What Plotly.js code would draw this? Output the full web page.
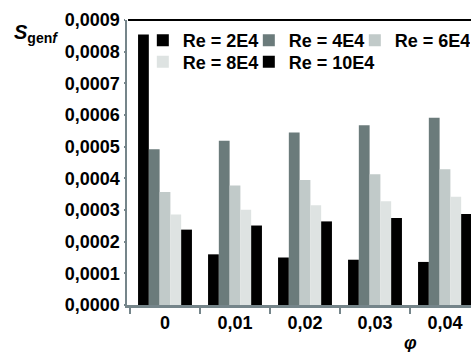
<!DOCTYPE html>
<html>
<head>
<meta charset="utf-8">
<script src="https://cdn.plot.ly/plotly-3.0.1.min.js"></script>
<style>html,body{margin:0;padding:0;background:#fff;}#chart{width:471px;height:352px;}</style>
</head>
<body>
<div id="chart"></div>
<script>
const categories = ["0", "0,01", "0,02", "0,03", "0,04"];
const seriesNames = ["Re = 2E4", "Re = 4E4", "Re = 6E4", "Re = 8E4", "Re = 10E4"];
const re2E4  = [0.000854, 0.000160, 0.000150, 0.000143, 0.000136];
const re4E4  = [0.000492, 0.000519, 0.000545, 0.000568, 0.000591];
const re6E4  = [0.000357, 0.000377, 0.000395, 0.000413, 0.000429];
const re8E4  = [0.000286, 0.000301, 0.000315, 0.000328, 0.000342];
const re10E4 = [0.000238, 0.000251, 0.000264, 0.000275, 0.000287];
const yTickVals = [0, 0.0001, 0.0002, 0.0003, 0.0004, 0.0005, 0.0006, 0.0007, 0.0008, 0.0009];

const colors = ["#000000", "#6b7b7b", "#c1cac9", "#dee3e2", "#000000"];
const allValues = [re2E4, re4E4, re6E4, re8E4, re10E4];
const legendOf = ["legend", "legend", "legend", "legend2", "legend2"];
const legendWidths = [undefined, undefined, 70, undefined, 95];
const FONT = "Liberation Sans, Arial, Helvetica, sans-serif";
const AXIS = "#75858a";
const FS = 18;

const traces = allValues.map((vals, i) => ({
  type: "bar",
  name: seriesNames[i],
  x: categories,
  y: vals,
  marker: {color: colors[i], line: {width: 0}},
  legend: legendOf[i],
  legendwidth: legendWidths[i],
  hoverinfo: "skip"
}));

const legendBase = {
  orientation: "h", x: 0.046, xanchor: "left", yanchor: "top",
  entrywidth: 61, entrywidthmode: "pixels",
  bgcolor: "rgba(0,0,0,0)", borderwidth: 0,
  font: {family: FONT, size: FS, weight: "bold", color: "#000"},
  itemwidth: 30, tracegroupgap: 0
};

const layout = {
  width: 471, height: 352,
  margin: {l: 127, r: 0, t: 20, b: 47},
  paper_bgcolor: "#ffffff", plot_bgcolor: "#ffffff",
  barmode: "group", bargap: 0.23, bargroupgap: 0,
  separators: ",.",
  font: {family: FONT, size: FS, color: "#000", weight: "bold"},
  xaxis: {
    type: "category",
    range: [-0.5429, 4.3714],
    showgrid: false, zeroline: false,
    showline: true, linecolor: AXIS, linewidth: 3,
    ticks: "outside", tickson: "boundaries", ticklen: 6, tickwidth: 2, tickcolor: AXIS,
    tickfont: {family: FONT, size: FS, weight: "bold", color: "#000"},
    ticklabelstandoff: -1
  },
  yaxis: {
    range: [0, 0.0009],
    tickvals: yTickVals,
    tickformat: ".4f",
    showgrid: false, zeroline: false,
    showline: true, linecolor: AXIS, linewidth: 2.5,
    ticks: "outside", ticklen: 1, tickwidth: 2, tickcolor: AXIS,
    tickfont: {family: FONT, size: FS, weight: "bold", color: "#000"},
    ticklabelstandoff: 0
  },
  showlegend: true,
  legend: Object.assign({}, legendBase, {y: 0.993}),
  legend2: Object.assign({}, legendBase, {y: 0.917}),
  shapes: [{
    type: "line", xref: "paper", yref: "paper",
    x0: 0.003, x1: 1, y0: 1, y1: 1,
    line: {color: "#000", width: 2}
  }],
  annotations: [
    {xref: "paper", yref: "paper", x: -0.334, y: 0.952, xanchor: "left", yanchor: "middle",
     showarrow: false, text: "<i>S</i><sub>gen<i>f</i></sub>",
     font: {family: FONT, size: 20, weight: "bold", color: "#000"}},
    {xref: "paper", yref: "paper", x: 0.824, y: -0.133, xanchor: "center", yanchor: "middle",
     showarrow: false, text: "<i>φ</i>",
     font: {family: FONT, size: 18, weight: "bold", color: "#000"}}
  ]
};

Plotly.newPlot("chart", traces, layout, {staticPlot: true, displayModeBar: false});
</script>
</body>
</html>
